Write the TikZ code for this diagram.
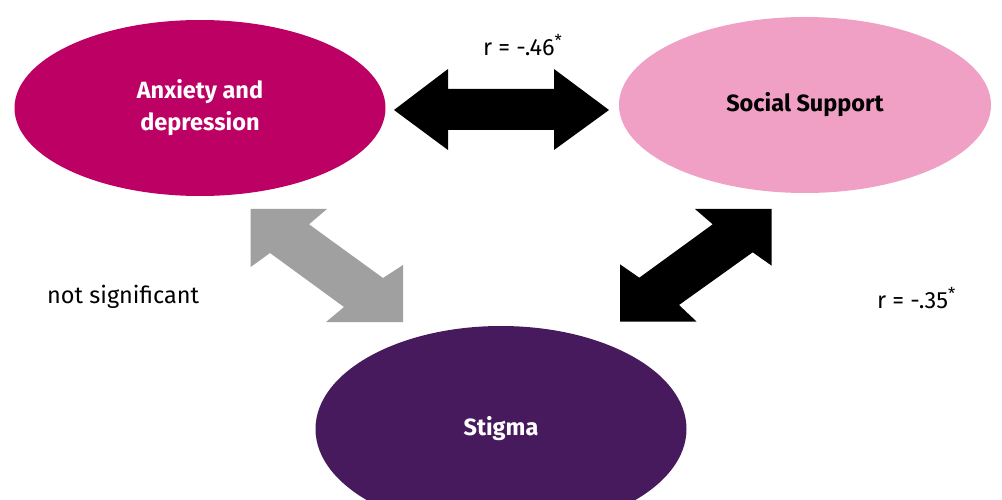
\documentclass[tikz,border=0pt]{standalone}
\usepackage{fontspec}
\setmainfont{Fira Sans}
\usetikzlibrary{shapes.geometric}
\definecolor{anxc}{HTML}{BC0064}
\definecolor{supc}{HTML}{F0A0C5}
\definecolor{stic}{HTML}{461A5D}
\definecolor{grayarr}{HTML}{A0A0A0}
\tikzset{
  blob/.style={ellipse, inner sep=0pt, font=\bfseries\fontsize{23.5}{32}\selectfont, align=center},
  lbl/.style={inner sep=0pt, font=\fontsize{23.5}{28}\selectfont},
  arr/.style={draw=none}
}
\begin{document}
\begin{tikzpicture}[x=1pt,y=-1pt]
\path[use as bounding box] (0,0) rectangle (1002,500);
\node[blob, fill=anxc, text=white, minimum width=371pt, minimum height=176pt] (anx) at (200,108) {Anxiety and\\depression};
\node[blob, fill=supc, text=black, minimum width=372pt, minimum height=176pt] (sup) at (805,105) {Social Support};
\node[blob, fill=stic, text=white, minimum width=371pt, minimum height=206pt] (sti) at (501,429) {Stigma};
% horizontal arrow
\fill[black] (394,110) -- (448,69) -- (448,89) -- (554,89) -- (554,69) -- (609,110)
  -- (554,150) -- (554,130) -- (448,130) -- (448,150) -- cycle;
% gray diagonal arrow
\fill[grayarr] (250.7,209) -- (327,209) -- (309,224.3) -- (383,278) -- (403,265) -- (403,322)
  -- (326,322) -- (344,307) -- (270,253) -- (250.7,267) -- cycle;
% black diagonal arrow
\fill[black] (771.7,209) -- (695,209) -- (712.7,224.3) -- (639.3,277.7) -- (620,264.3) -- (620,321.7)
  -- (696.7,321.7) -- (679,305) -- (752.7,252.3) -- (771.7,265.7) -- cycle;
\node[lbl, anchor=west] (r1) at (483,45) {r = -.46\textsuperscript{*}};
\node[lbl, anchor=west] (r2) at (877,298) {r = -.35\textsuperscript{*}};
\node[lbl, anchor=west] (ns) at (47,297) {not significant};
\end{tikzpicture}
\end{document}
